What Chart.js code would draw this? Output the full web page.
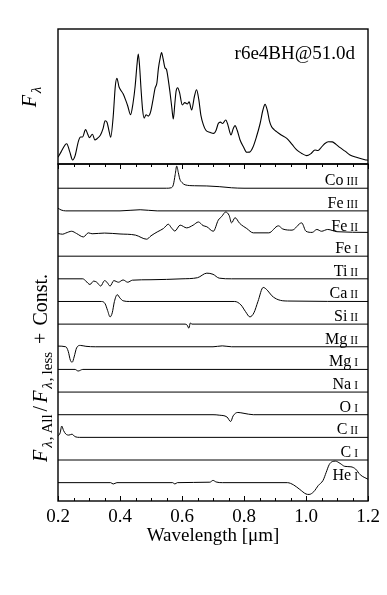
<!DOCTYPE html>
<html><head><meta charset="utf-8">
<script src="https://cdn.jsdelivr.net/npm/chart.js@4.4.0/dist/chart.umd.min.js"></script>
<style>
html,body{margin:0;padding:0;background:#fff;}
#wrap{position:relative;width:387px;height:595px;}
canvas{position:absolute;left:0;top:0;}
</style></head><body>
<div id="wrap"><canvas id="bot" width="387" height="595"></canvas><canvas id="top" width="387" height="595"></canvas></div>
<script>
// ---------- DATA ----------
const fluxWave = [0.200,0.210,0.228,0.238,0.247,0.255,0.266,0.273,0.279,0.289,0.296,0.301,0.311,0.319,0.327,0.337,0.345,0.352,0.358,0.365,0.370,0.378,0.385,0.390,0.397,0.403,0.410,0.418,0.425,0.434,0.442,0.449,0.455,0.459,0.463,0.468,0.473,0.478,0.484,0.491,0.498,0.506,0.513,0.519,0.524,0.530,0.534,0.539,0.545,0.550,0.556,0.561,0.567,0.572,0.577,0.581,0.586,0.592,0.601,0.609,0.617,0.623,0.631,0.640,0.647,0.654,0.661,0.669,0.677,0.690,0.703,0.710,0.717,0.724,0.731,0.741,0.748,0.753,0.758,0.765,0.771,0.778,0.787,0.798,0.809,0.818,0.828,0.840,0.852,0.861,0.868,0.875,0.882,0.889,0.897,0.905,0.920,0.938,0.955,0.970,0.985,1.002,1.015,1.029,1.038,1.048,1.060,1.072,1.085,1.097,1.110,1.126,1.142,1.165,1.190,1.200];
const fluxValue = [0.05,0.09,0.15,0.09,0.03,0.06,0.17,0.20,0.20,0.255,0.22,0.195,0.22,0.178,0.19,0.215,0.26,0.32,0.31,0.24,0.198,0.35,0.58,0.635,0.57,0.545,0.52,0.475,0.43,0.365,0.45,0.58,0.74,0.815,0.73,0.55,0.40,0.34,0.365,0.355,0.38,0.47,0.56,0.60,0.71,0.79,0.826,0.78,0.713,0.70,0.62,0.536,0.42,0.333,0.45,0.54,0.565,0.53,0.437,0.455,0.445,0.46,0.40,0.50,0.55,0.48,0.36,0.29,0.25,0.235,0.227,0.25,0.30,0.31,0.30,0.326,0.29,0.245,0.215,0.26,0.284,0.25,0.18,0.128,0.087,0.088,0.12,0.20,0.30,0.40,0.442,0.40,0.32,0.276,0.255,0.24,0.215,0.19,0.145,0.104,0.08,0.062,0.075,0.104,0.10,0.12,0.15,0.165,0.164,0.145,0.121,0.095,0.067,0.048,0.032,0.028];

const xTickLabels = [0.2, 0.4, 0.6, 0.8, 1.0, 1.2];
const spectrumLabel = 'r6e4BH@51.0d';

const ionElements = ['Co','Fe','Fe','Fe','Ti','Ca','Si','Mg','Mg','Na','O','C','C','He'];
const ionStages   = ['III','III','II','I','II','II','II','II','I','I','I','II','I','I'];
const ionOffsets  = [13,12,11,10,9,8,7,6,5,4,3,2,1,0];

const coIIIWave = [0.2,0.55,0.565,0.572,0.578,0.583,0.588,0.593,0.6,0.61,0.64,0.68,0.72,0.76,0.8,1.2];
const coIIIDev  = [0,0,0.02,0.15,0.6,0.98,0.7,0.4,0.25,0.15,0.11,0.1,0.07,0.02,0,0];
const feIIIWave = [0.2,0.21,0.225,0.4,0.465,0.52,1.2];
const feIIIDev  = [0.12,0.04,0,0,0.05,0,0];
const feIIWave  = [0.2,0.215,0.225,0.244,0.26,0.282,0.298,0.31,0.35,0.4,0.45,0.486,0.5,0.52,0.54,0.556,0.566,0.577,0.594,0.615,0.636,0.653,0.668,0.68,0.701,0.717,0.728,0.741,0.752,0.76,0.771,0.786,0.809,0.83,0.88,0.911,0.925,0.955,0.986,1.0,1.02,1.035,1.05,1.07,1.1,1.2];
const feIIDev   = [0,-0.03,0.02,0.1,0,-0.15,0.03,-0.01,0.02,-0.02,-0.07,-0.25,-0.1,0.07,0.22,0.41,0.25,0.11,0.37,0.25,0.37,0.51,0.35,0.3,0.1,0.59,0.75,0.95,0.8,0.47,0.7,0.45,0.22,0.03,0.03,0.34,0.2,0.15,0.47,0.1,0.05,0.18,0.1,0.18,0.08,0.05];
const feIWave   = [0.2,1.2];
const feIDev    = [0,0];
const tiIIWave  = [0.2,0.28,0.29,0.303,0.315,0.325,0.338,0.35,0.358,0.368,0.38,0.395,0.41,0.425,0.44,0.5,0.6,0.65,0.68,0.7,0.72,0.76,1.2];
const tiIIDev   = [0,0,-0.1,-0.25,-0.1,-0.15,-0.32,-0.08,-0.15,-0.32,-0.08,-0.15,-0.05,-0.15,-0.06,-0.04,0,0.05,0.25,0.2,0.03,0,0];
const caIIWave  = [0.2,0.34,0.352,0.36,0.368,0.375,0.382,0.391,0.4,0.41,0.43,0.77,0.79,0.805,0.819,0.832,0.845,0.862,0.875,0.89,0.91,0.94,1.2];
const caIIDev   = [0,0,-0.1,-0.4,-0.68,-0.5,0,0.3,0.15,0.03,0,0,-0.15,-0.45,-0.68,-0.5,0,0.62,0.5,0.25,0.08,0.02,0];
const siIIWave  = [0.2,0.61,0.617,0.622,0.627,0.632,1.2];
const siIIDev   = [0,0,-0.05,-0.18,0.05,0,0];
const mgIIWave  = [0.2,0.225,0.233,0.24,0.246,0.252,0.26,0.272,0.29,0.32,0.7,0.73,0.76,1.2];
const mgIIDev   = [0.03,0,-0.2,-0.6,-0.68,-0.45,-0.05,0.06,0.02,0,0,0.04,0,0];
const mgIWave   = [0.2,0.255,0.265,0.28,1.2];
const mgIDev    = [0,0,-0.07,0,0];
const naIWave   = [0.2,1.2];
const naIDev    = [0,0];
const oIWave    = [0.2,0.7,0.72,0.745,0.757,0.765,0.78,0.8,0.83,1.2];
const oIDev     = [0,0,-0.02,-0.1,-0.3,-0.05,0.1,0.06,0,0];
const cIIWave   = [0.2,0.207,0.212,0.218,0.225,0.235,0.245,0.255,0.27,1.2];
const cIIDev    = [0.05,0.2,0.5,0.3,0.15,0.1,0.14,0.03,0,0];
const cIWave    = [0.2,1.2];
const cIDev     = [0,0];
const heIWave   = [0.2,0.37,0.378,0.39,0.57,0.577,0.585,0.69,0.7,0.71,0.73,0.94,0.96,0.98,1.0,1.01,1.025,1.04,1.055,1.065,1.075,1.085,1.095,1.11,1.125,1.145,1.16,1.175,1.2];
const heIDev    = [0,0,-0.06,0,0,-0.06,0,0.02,0.1,0.03,0,0,-0.1,-0.3,-0.5,-0.52,-0.4,-0.12,0.1,0.45,0.8,0.93,0.95,0.85,0.72,0.7,0.6,0.35,0.15];

const ionWaves = [coIIIWave,feIIIWave,feIIWave,feIWave,tiIIWave,caIIWave,siIIWave,mgIIWave,mgIWave,naIWave,oIWave,cIIWave,cIWave,heIWave];
const ionDevs  = [coIIIDev,feIIIDev,feIIDev,feIDev,tiIIDev,caIIDev,siIIDev,mgIIDev,mgIDev,naIDev,oIDev,cIIDev,cIDev,heIDev];

// ---------- STYLE ----------
const SERIF = '"Liberation Serif", "DejaVu Serif", serif';

function drawRich(ctx, parts, cx, cy, rotate) {
  ctx.save();
  ctx.translate(cx, cy);
  if (rotate) ctx.rotate(-Math.PI / 2);
  ctx.textBaseline = 'alphabetic';
  ctx.textAlign = 'left';
  let total = 0;
  parts.forEach(p => { ctx.font = p.f; p.w = ctx.measureText(p.t).width + (p.gap || 0); total += p.w; });
  let x = -total / 2;
  parts.forEach(p => { ctx.font = p.f; ctx.fillText(p.t, x, p.dy || 0); x += p.w; });
  ctx.restore();
}

const framePlugin = {
  id: 'frame',
  afterDraw(chart) {
    const a = chart.chartArea, ctx = chart.ctx;
    ctx.save();
    ctx.strokeStyle = '#000';
    ctx.lineWidth = 1.4;
    ctx.strokeRect(a.left, a.top, a.right - a.left, a.bottom - a.top);
    ctx.restore();
  }
};

const minorTickPlugin = {
  id: 'inTicks',
  afterDraw(chart) {
    const a = chart.chartArea, ctx = chart.ctx, xs = chart.scales.x;
    ctx.save();
    ctx.strokeStyle = '#000';
    ctx.lineWidth = 1;
    for (let i = 0; i <= 20; i++) {
      const v = 0.2 + i * 0.05;
      const px = Math.round(xs.getPixelForValue(v)) + 0.5;
      const len = (i % 4 === 0) ? 5 : 3;
      ctx.beginPath();
      ctx.moveTo(px, a.bottom); ctx.lineTo(px, a.bottom - len);
      ctx.moveTo(px, a.top); ctx.lineTo(px, a.top + len);
      ctx.stroke();
    }
    ctx.restore();
  }
};

const ionLabelPlugin = {
  id: 'ionLabels',
  afterDatasetsDraw(chart) {
    const ctx = chart.ctx, ys = chart.scales.y;
    ctx.save();
    ctx.fillStyle = '#000';
    ctx.textBaseline = 'alphabetic';
    ctx.textAlign = 'right';
    ionElements.forEach((el, i) => {
      const py = ys.getPixelForValue(ionOffsets[i]) - 3;
      const xr = 358;
      ctx.font = '11.5px ' + SERIF;
      ctx.fillText(ionStages[i], xr, py);
      const w = ctx.measureText(ionStages[i]).width;
      ctx.font = '16px ' + SERIF;
      ctx.fillText(el, xr - w - 3, py);
    });
    // rotated y-axis label
    drawRich(ctx, [
      {t: 'F', f: 'italic 20px ' + SERIF, gap: 2},
      {t: 'λ', f: 'italic 15px ' + SERIF, dy: 5, gap: 1},
      {t: ',', f: '15px ' + SERIF, dy: 5, gap: 3},
      {t: 'All', f: '15px ' + SERIF, dy: 5, gap: 3},
      {t: '/', f: '20px ' + SERIF, gap: 3},
      {t: 'F', f: 'italic 20px ' + SERIF, gap: 2},
      {t: 'λ', f: 'italic 15px ' + SERIF, dy: 5, gap: 1},
      {t: ',', f: '15px ' + SERIF, dy: 5, gap: 3},
      {t: 'less', f: '15px ' + SERIF, dy: 5, gap: 8},
      {t: '+', f: '20px ' + SERIF, gap: 7},
      {t: 'Const.', f: '20px ' + SERIF}
    ], 47, 368, true);
    ctx.restore();
  }
};

const topTextPlugin = {
  id: 'topText',
  afterDatasetsDraw(chart) {
    const ctx = chart.ctx;
    ctx.save();
    ctx.fillStyle = '#000';
    ctx.font = '19px ' + SERIF;
    ctx.textAlign = 'right';
    ctx.textBaseline = 'alphabetic';
    ctx.fillText(spectrumLabel, 355, 59);
    drawRich(ctx, [
      {t: 'F', f: 'italic 20px ' + SERIF, gap: 2},
      {t: 'λ', f: 'italic 15px ' + SERIF, dy: 5}
    ], 36, 97, true);
    ctx.restore();
  }
};

// ---------- TOP CHART ----------
new Chart(document.getElementById('top'), {
  type: 'line',
  data: {
    datasets: [{
      data: fluxWave.map((w, i) => ({x: w, y: fluxValue[i]})),
      borderColor: '#000', borderWidth: 1.1, pointRadius: 0,
      cubicInterpolationMode: 'monotone', fill: false
    }]
  },
  options: {
    responsive: false, animation: false, devicePixelRatio: 1,
    layout: {padding: {left: 58, right: 19, top: 29, bottom: 431}},
    plugins: {legend: {display: false}, tooltip: {enabled: false}},
    scales: {
      x: {type: 'linear', min: 0.2, max: 1.2, display: false},
      y: {type: 'linear', min: 0, max: 1, display: false}
    }
  },
  plugins: [topTextPlugin, framePlugin]
});

// ---------- BOTTOM CHART ----------
new Chart(document.getElementById('bot'), {
  type: 'line',
  data: {
    datasets: ionWaves.map((wv, k) => ({
      label: ionElements[k] + ' ' + ionStages[k],
      data: wv.map((w, i) => ({x: w, y: ionOffsets[k] + ionDevs[k][i]})),
      borderColor: '#000', borderWidth: 1, pointRadius: 0,
      cubicInterpolationMode: 'monotone', fill: false
    }))
  },
  options: {
    responsive: false, animation: false, devicePixelRatio: 1,
    layout: {padding: {left: 58, right: 19, top: 164, bottom: 0}},
    plugins: {legend: {display: false}, tooltip: {enabled: false}},
    scales: {
      x: {
        type: 'linear', min: 0.2, max: 1.2,
        afterBuildTicks(scale) { scale.ticks = xTickLabels.map(v => ({value: v})); },
        afterFit(scale) { scale.height = 94; },
        grid: {display: false},
        border: {display: false},
        ticks: {
          color: '#000', padding: -3,
          font: {family: SERIF, size: 19},
          maxRotation: 0, autoSkip: false,
          callback: v => Number(v).toFixed(1)
        },
        title: {
          display: true, text: 'Wavelength [μm]', color: '#000',
          font: {family: SERIF, size: 19}, padding: {top: 0, bottom: 48}
        }
      },
      y: {type: 'linear', min: -0.81, max: 14.07, display: false}
    }
  },
  plugins: [ionLabelPlugin, minorTickPlugin, framePlugin]
});
</script>
</body></html>
